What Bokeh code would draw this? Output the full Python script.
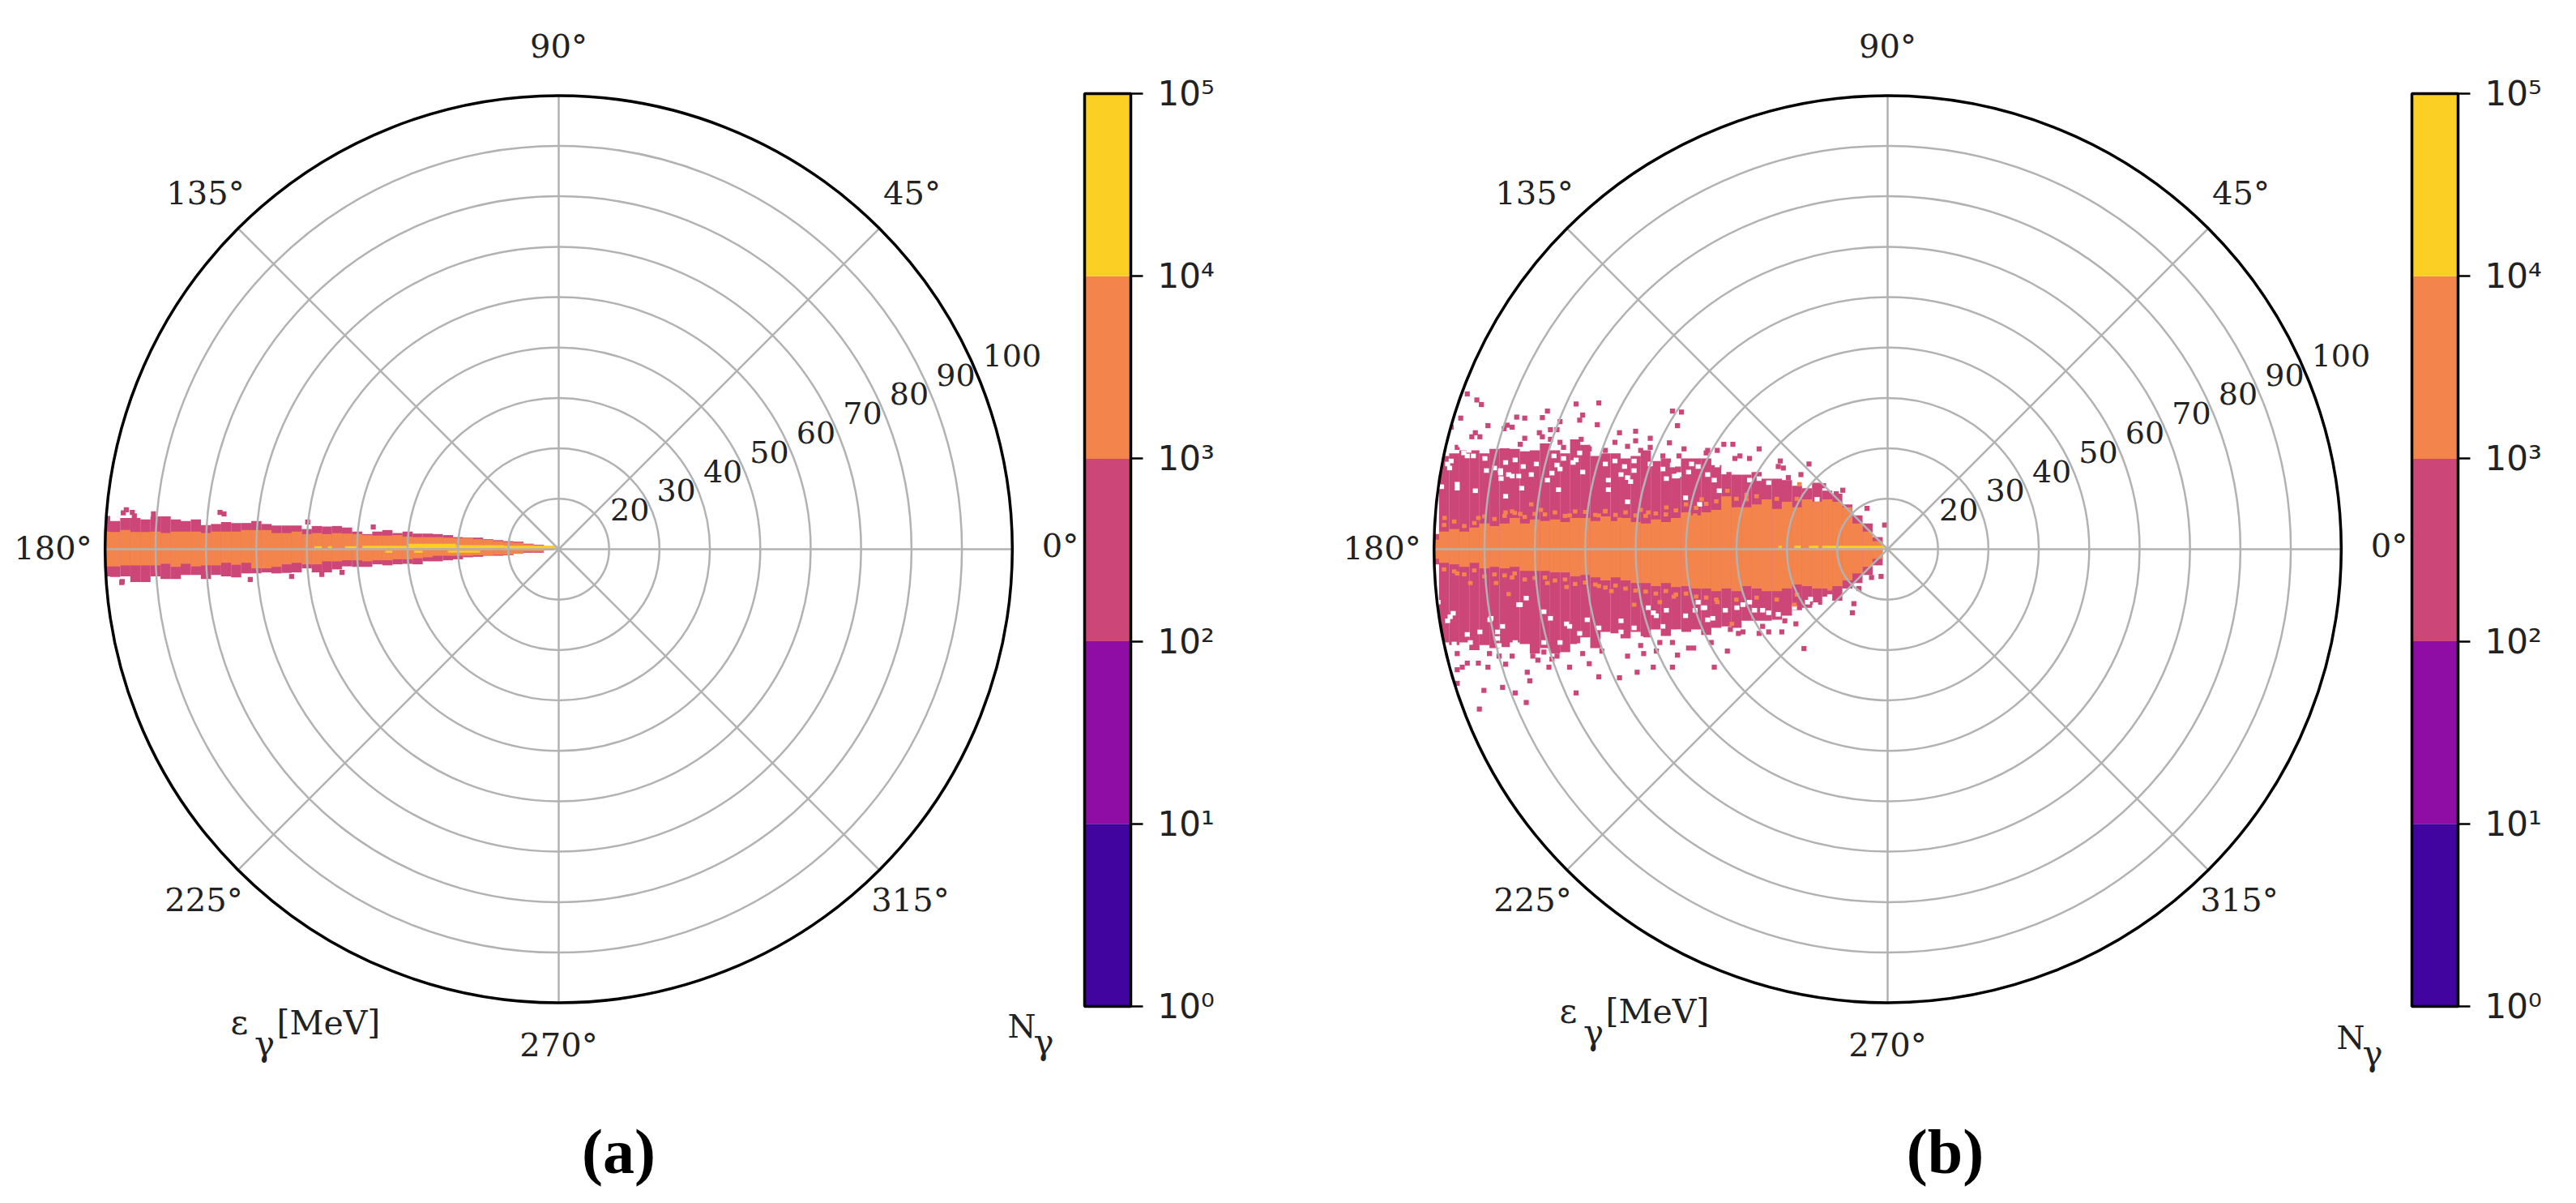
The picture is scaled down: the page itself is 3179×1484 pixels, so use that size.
from bokeh.plotting import figure
from bokeh.layouts import row
from bokeh.models import Range1d, FixedTicker
from bokeh.core.properties import value
from bokeh.embed import file_html
from bokeh.resources import INLINE
import math

# ---------- data: histogram (MeV from the plot centre) ----------
stations = [90,88,86,84,82,80,78,76,74,72,70,68,66,64,62,60,58,56,54,52,50,48,46,44,42,40,38,36,34,32,30,28,26,24,22,20,18,16,14,12,10,8,6,4,2]

a_mag_top = [6.6,5.6,6.2,6.2,5.9,6.5,6.5,5.9,5.6,5.9,4.8,5.0,5.4,5.2,5.2,5.6,5.0,4.7,4.7,4.7,4.0,4.6,4.5,4.6,4.3,3.5,3.0,3.5,3.8,3.2,3.5,3.1,3.1,3.0,2.8,2.4,2.3,2.3,2.0,1.8,1.6,1.5,1.1,0.9,0.6]
a_or_top  = [3.5,3.4,3.8,3.4,3.4,3.5,3.2,3.5,3.5,3.5,3.2,3.5,3.5,3.5,3.8,3.8,3.8,3.2,3.2,3.5,3.0,3.2,3.0,3.2,3.1,3.0,2.8,2.7,2.7,2.8,2.5,2.4,2.4,2.4,2.3,2.2,2.2,2.0,1.9,1.6,1.4,1.3,1.0,0.8,0.0]
a_or_bot  = [3.4,3.4,3.2,3.2,3.2,3.2,2.9,3.5,2.9,3.4,3.2,3.2,2.7,3.1,2.7,3.8,3.8,3.5,3.0,2.7,3.0,3.0,2.4,2.4,2.2,2.2,2.4,2.2,2.2,2.0,2.0,1.8,1.6,1.3,1.3,1.3,1.3,1.2,1.2,1.1,1.1,0.9,0.5,0.5,0.0]
a_mag_bot = [5.4,5.5,5.4,6.5,6.5,5.4,5.9,5.9,5.1,5.1,5.9,5.1,5.4,5.6,4.8,4.8,4.6,4.8,4.7,4.6,3.8,4.6,4.6,4.0,3.4,3.5,3.5,3.0,3.2,3.0,2.9,3.0,2.4,2.4,2.2,2.0,1.6,1.5,1.3,1.3,1.2,0.9,0.7,0.7,0.2]
a_spk_x = [86.4,85.8,80.4,84.6,84.2,67.2,66.4,49.8,36.8,86.7,61.2,86.6,53.0,47.0,43.0]
a_spk_y = [7.2,7.8,7.0,7.3,6.6,7.3,7.0,5.4,4.4,-6.6,-6.0,-6.4,-5.4,-5.0,-4.6]
a_yel_start = [0.6,10.8,20.4,30.0,40.0,45.0,47.0,33.0,27.0,15.6]
a_yel_end   = [10.8,20.4,30.0,39.0,42.4,45.8,48.5,34.4,28.7,22.0]
a_yel_low   = [0.1,0.2,0.2,0.2,0.2,0.2,0.2,-0.7,-0.7,-0.7]
a_yel_high  = [0.7,0.8,1.1,0.7,0.6,0.6,0.6,-0.3,-0.3,-0.3]

b_mag_top = [3.0,18.5,19.0,19.6,19.6,19.0,19.9,20.0,19.9,19.4,19.6,21.0,19.6,19.0,21.8,20.7,18.5,19.0,19.0,18.0,18.5,19.6,17.5,18.0,16.4,18.0,18.0,18.0,16.7,15.3,14.8,14.8,15.3,14.0,14.0,13.7,12.6,12.1,13.2,11.6,11.0,8.9,6.7,5.1,2.4]
b_or_top  = [1.9,3.5,4.0,3.5,4.3,5.1,4.6,5.1,6.2,5.1,5.9,5.6,5.9,5.4,6.2,6.2,5.6,6.5,5.6,6.2,5.4,5.1,5.9,5.4,6.2,7.3,6.7,7.3,7.8,10.5,8.3,8.3,8.9,9.9,8.0,9.4,8.3,9.9,9.4,9.9,9.4,8.3,5.1,3.5,1.6]
b_or_bot  = [1.9,2.7,3.0,3.5,2.7,3.8,3.5,3.8,3.5,4.3,4.3,4.3,4.6,4.6,5.4,5.1,5.6,6.2,5.6,6.2,6.7,6.7,7.3,6.7,7.5,7.3,7.8,7.8,8.3,7.8,8.3,7.3,7.8,8.3,8.3,7.8,7.0,7.3,7.8,7.8,7.3,6.2,4.8,3.5,1.9]
b_mag_bot = [3.0,18.5,19.0,18.5,20.0,19.0,19.6,19.4,18.5,18.8,20.7,19.6,20.7,20.4,18.8,17.5,19.6,16.4,16.7,17.7,16.4,17.5,15.9,17.2,15.9,16.4,15.9,17.0,15.6,15.3,15.6,14.2,14.2,14.2,14.0,13.2,12.1,11.6,11.0,9.4,10.2,7.8,6.7,5.1,3.2]
b_spk_x = [83.4,81.5,80.6,84.7,86.6,81.8,82.5,80.9,79.3,75.5,76.1,74.5,73.6,72.0,67.5,68.5,65.0,61.8,57.3,60.5,61.1,57.6,69.1,68.5,66.9,65.6,72.0,72.9,60.8,62.4,53.2,50.0,50.0,47.1,43.3,40.4,41.7,40.9,42.7,32.5,30.7,35.7,33.8,29.3,27.4,25.5,21.3,20.7,15.6,8.9,4.1,0.6,85.4,
           84.4,85.4,83.4,85.4,81.2,79.3,80.1,81.0,76.4,73.9,71.7,71.0,71.5,67.2,63.1,59.2,61.8,57.3,53.2,49.7,46.5,42.7,34.4,41.7,38.5,31.8,16.6,7.0,6.7,1.3,23.6,21.0,25.5,29.6,51.6,56.7,65.6,66.6,70.4,69.4,85.4,79.0,75.8,48.4,45.9,
           66.9,65.0,64.3,59.2,56.0,54.1,51.6,49.0,47.1,44.6,41.4,36.0,30.3,21.7,19.7,17.2,12.7,10.2,
           49.0,45.2,42.7,39.5,35.0,31.2,28.7,24.8,18.2,20.4,10.2,5.7,3.2,60.5,68.2,74.5,77.1]
b_spk_y = [30.8,29.6,28.7,26.0,24.2,23.1,22.3,22.3,24.5,24.6,23.9,24.2,26.2,26.0,27.4,26.1,25.3,28.8,29.0,26.6,25.6,24.7,23.1,22.3,23.7,23.7,22.0,20.8,21.8,21.2,23.1,23.4,21.5,22.0,21.1,19.9,24.5,27.2,27.4,20.8,20.8,19.6,19.6,18.5,18.0,19.9,17.5,16.1,16.9,11.7,8.1,4.8,20.2,
           -23.4,-23.9,-22.6,-26.6,-22.6,-23.4,-28.0,-31.7,-27.4,-28.5,-30.4,-26.1,-24.4,-23.4,-23.4,-22.7,-28.5,-25.3,-25.5,-24.4,-23.4,-23.4,-23.4,-21.0,-19.6,-20.2,-19.7,-12.6,-10.8,-5.4,-16.4,-16.4,-16.7,-16.7,-21.2,-20.2,-21.2,-21.8,-21.2,-22.0,-20.7,-20.7,-22.8,-20.7,-20.2,
           21.8,21.2,20.2,19.9,19.6,21.2,20.4,19.6,20.2,18.5,18.5,19.1,18.0,16.4,14.2,14.8,12.6,11.0,
           -19.1,-18.5,-18.5,-19.6,-18.5,-15.9,-16.4,-15.3,-14.8,-14.2,-9.4,-7.8,-5.6,-20.7,-20.4,-21.2,-21.2]
b_hole_x = [87.3,86.9,85.4,78.0,76.8,75.2,73.2,67.5,65.6,65.3,55.4,41.4,42.3,50.3,51.6,55.4,76.7,79.6,64.3,61.8,83.4,47.1,37.6,32.5,
            86.8,86.2,87.3,66.9,59.6,77.4,73.2,63.1,52.9,46.5,43.9,36.3,29.9,35.7,24.8,15.9,14.3,47.5,27.4,37.6,78.7,77.4,
            84.7,84.1,83.1,82.2,80.9,86.6,79.9,75.8,73.9,76.8,74.5,72.3,69.7,70.7,66.2,65.0,62.4,60.5,66.6,61.1,56.0,54.1,52.2,50.3,52.9,51.0,44.6,41.7,39.5,38.9,42.7,43.9,35.7,33.8,31.2,28.7,27.4,25.5,23.6,34.4,88.5,85.4,81.8,72.6,75.8,51.6,40.1,37.3,33.4,15.9,14.0,
            89.2,78.9,76.4,72.9,71.7,68.2,63.7,61.1,57.3,55.4,52.9,50.3,49.0,45.9,44.6,41.4,40.1,38.2,36.6,34.7,32.2,28.7,26.4,23.6,21.7,18.5,15.3,11.5,80.9,83.4,77.1,73.9,68.2,65.0,61.1,82.8,86.0]
b_hole_y = [16.9,16.1,12.9,16.1,15.6,14.8,14.5,13.7,16.7,11.8,11.8,14.8,14.5,15.6,14.2,13.7,14.0,15.6,18.0,17.7,18.5,16.9,16.4,15.3,
            -13.4,-12.7,-14.2,-13.7,-14.0,-17.7,-11.0,-15.3,-14.2,-12.6,-12.1,-11.6,-11.6,-14.0,-12.1,-10.5,-11.0,-11.6,-10.5,-10.5,-13.7,-16.4,
            20.7,19.1,19.6,18.5,20.7,17.5,18.0,17.2,17.7,15.1,14.5,16.4,16.9,14.8,18.5,15.9,17.2,15.3,15.1,19.1,16.9,17.5,16.4,17.5,14.8,13.4,15.9,14.5,15.3,16.9,16.7,14.0,14.8,16.7,16.4,15.3,13.7,14.0,13.2,13.7,12.4,12.1,11.6,12.1,10.5,9.4,10.2,8.9,11.6,9.4,9.9,
            -10.5,-14.0,-15.3,-11.0,-9.7,-12.4,-14.8,-16.7,-15.6,-18.0,-16.4,-15.6,-17.7,-13.2,-15.3,-16.4,-13.2,-12.1,-11.6,-13.7,-12.1,-11.0,-12.1,-12.6,-12.9,-11.6,-9.9,-9.4,-16.4,-16.9,-19.1,-18.5,-18.5,-18.5,-19.1,-18.5,-18.8]
b_ospk_x = [75.8,74.5,72.9,68.8,70.7,63.1,56.0,57.3,53.2,49.0,47.5,43.9,36.9,38.2,31.8,28.0,24.8,17.5,87.9,81.2,
            85.4,77.7,74.5,67.5,63.7,57.3,54.8,50.3,45.2,42.4,33.8,30.9,18.5,11.5,75.2,82.8,
            88,86,84,82,80,78,76,74,72,70,68,66,64,62,60,58,56,54,52,50,48,46,44,42,40,38,36,34,30,28,26,22,18,
            88,86,84,82,80,78,76,74,72,70,68,66,64,62,60,58,56,54,52,50,48,46,44,42,40,38,36,34,30,26,22,18]
b_ospk_y = [7.3,7.5,7.0,7.8,8.9,6.7,7.5,6.7,5.9,7.8,7.3,8.3,9.9,6.7,11.6,9.9,8.3,12.9,6.2,6.2,
            -4.8,-6.7,-5.6,-6.7,-7.5,-7.3,-8.3,-11.0,-10.5,-9.4,-10.5,-14.8,-11.0,-7.8,-8.9,-6.7,
            4.8,5.5,4.6,5.2,6.5,6.0,6.6,7.2,6.4,7.0,6.9,7.3,6.6,7.5,7.4,6.8,7.6,6.8,7.3,6.7,6.6,7.1,6.9,7.7,8.9,8.2,9.0,9.5,10.0,10.8,10.5,10.0,10.0,
            -4.0,-4.4,-5.0,-4.2,-5.4,-5.0,-5.2,-4.8,-6.0,-5.7,-5.6,-6.2,-6.0,-6.9,-6.6,-7.0,-7.6,-7.2,-7.8,-8.2,-8.4,-8.8,-8.3,-9.0,-8.8,-9.4,-9.6,-10.0,-10.0,-9.6,-10.0,-9.0]
b_yel_start = [0.6,10.2,13.7,17.2,21.0]
b_yel_end   = [10.2,13.0,15.6,18.5,21.7]

radial_ticks = [20,30,40,50,60,70,80,90,100]
angle_ticks = [0,45,90,135,180,225,270,315]
angle_labels = ["0°","45°","90°","135°","180°","225°","270°","315°"]

cbar_low = [1,10,100,1000,10000]
cbar_high = [10,100,1000,10000,100000]
cbar_colors = ["#42049e","#8f0da4","#cc4678","#f3844b","#fccf25"]
cbar_labels = {1:"10⁰",10:"10¹",100:"10²",1000:"10³",10000:"10⁴",100000:"10⁵"}

# ---------- layout constants ----------
K = 6.22          # page pixels per MeV
CY = 677
H = 1476
SERIF = value("DejaVu Serif")
GRID = "#b2b2b2"
MAG, ORG, YEL = "#cc4678", "#f3844b", "#fccf25"
DECADE = 225.2    # colour bar pixels per decade
CB_TOP, CB_BOT = 115, 1241


def polar_panel(page_left, page_right, cx, env, spk, holes, ospk, yel, cap, eps_dy, n_dy):
    p = figure(width=page_right - page_left, height=H,
               x_range=Range1d((page_left - cx) / K, (page_right - cx) / K),
               y_range=Range1d((CY - H) / K, CY / K),
               x_axis_location=None, y_axis_location=None,
               toolbar_location=None, output_backend="svg", min_border=0,
               outline_line_color=None)
    p.grid.visible = False
    mt, ot, ob, mb = env
    def band(top, bot, color):
        p.quad(left=[-(u + 1) for u in stations], right=[-(u - 1.02) for u in stations],
               top=top, bottom=[-b for b in bot], fill_color=color, line_color=None)
    band(mt, mb, MAG)
    p.rect(x=[-v for v in spk[0]], y=spk[1], width=1.0, height=1.0, fill_color=MAG, line_color=None)
    if holes:
        p.rect(x=[-v for v in holes[0]], y=holes[1], width=1.0, height=0.9, fill_color="white", line_color=None)
    band(ot, ob, ORG)
    if ospk:
        p.rect(x=[-v for v in ospk[0]], y=ospk[1], width=0.9, height=0.8, fill_color=ORG, line_color=None)
    p.quad(left=[-v for v in yel[1]], right=[-v for v in yel[0]], bottom=yel[2], top=yel[3],
           fill_color=YEL, line_color=None)
    # mask anything past the outer radius
    p.annulus(x=[0], y=[0], inner_radius=[90], outer_radius=[96], fill_color="white", line_color=None)
    # grid
    p.circle(x=[0] * 8, y=[0] * 8, radius=[r - 10 for r in radial_ticks[:-1]],
             fill_color=None, line_color=GRID, line_width=2.5)
    p.segment(x0=[0] * 8, y0=[0] * 8,
              x1=[90 * math.cos(math.radians(t)) for t in angle_ticks],
              y1=[90 * math.sin(math.radians(t)) for t in angle_ticks],
              line_color=GRID, line_width=2.5)
    p.circle(x=[0], y=[0], radius=[90], fill_color=None, line_color="black", line_width=3.5)
    # angle labels
    off_x = [619, 436, 0, -436, -624, -438, 0, 434]
    off_y = [5, 440, 621, 440, 2, -432, -611, -432]
    p.text(x=[v / K for v in off_x], y=[v / K for v in off_y], text=angle_labels,
           text_font=SERIF, text_font_size="40px", text_color="#222222",
           text_align="center", text_baseline="middle")
    # radial labels
    t = math.radians(22.5)
    p.text(x=[(r - 10) * math.cos(t) for r in radial_ticks],
           y=[(r - 10) * math.sin(t) for r in radial_ticks],
           text=[str(r) for r in radial_ticks], x_offset=6, y_offset=-25,
           text_font=SERIF, text_font_size="38px", text_color="#222222",
           text_align="left", text_baseline="middle")
    # axis names
    yy = -584 + eps_dy
    p.text(x=[-394 / K], y=[yy / K], text=["ε"], text_font=SERIF, text_font_size="42px",
           text_align="center", text_baseline="middle", text_color="#222222")
    p.text(x=[-363 / K], y=[(yy - 26) / K], text=["γ"], text_font=SERIF, text_font_size="42px",
           text_align="center", text_baseline="middle", text_color="#222222")
    p.text(x=[-348 / K], y=[yy / K], text=["[MeV]"], text_font=SERIF, text_font_size="41px",
           text_align="left", text_baseline="middle", text_color="#222222")
    ny = -588 + n_dy
    p.text(x=[554 / K], y=[ny / K], text=["N"], text_font=SERIF, text_font_size="40px",
           text_align="left", text_baseline="middle", text_color="#222222")
    p.text(x=[586 / K], y=[(ny - 20) / K], text=["γ"], text_font=SERIF, text_font_size="42px",
           text_align="left", text_baseline="middle", text_color="#222222")
    p.text(x=[cap[1] / K], y=[(CY - 1420) / K], text=[cap[0]], text_font=value("Liberation Serif"),
           text_font_size="78px", text_font_style="bold", text_align="center", text_baseline="middle",
           text_color="black")
    return p


def colorbar(width):
    lo = 10 ** (-(H - CB_BOT) / DECADE)
    hi = 10 ** (5 + CB_TOP / DECADE)
    pad = 3 / 57
    c = figure(width=width, height=H,
               x_range=Range1d(-pad, 1 + pad), y_range=Range1d(lo, hi), y_axis_type="log",
               x_axis_location=None, y_axis_location="right",
               toolbar_location=None, output_backend="svg",
               min_border=0, min_border_right=width - 63, outline_line_color=None)
    c.grid.visible = False
    c.quad(left=[0] * 5, right=[1] * 5, bottom=cbar_low, top=cbar_high, fill_color=cbar_colors, line_color=None)
    c.quad(left=[0], right=[1], bottom=[1], top=[100000], fill_color=None, line_color="black", line_width=3.5)
    ax = c.yaxis[0]
    ax.ticker = FixedTicker(ticks=list(cbar_labels.keys()))
    ax.major_label_overrides = cbar_labels
    ax.major_tick_out = 12
    ax.major_tick_in = 3
    ax.minor_tick_line_color = None
    ax.major_tick_line_color = "black"
    ax.major_tick_line_width = 2.5
    ax.axis_line_color = None
    ax.major_label_standoff = 18
    ax.major_label_text_font = "DejaVu Sans"
    ax.major_label_text_font_size = "42px"
    ax.major_label_text_color = "#222222"
    return c


pa = polar_panel(0, 1335, 689, (a_mag_top, a_or_top, a_or_bot, a_mag_bot), (a_spk_x, a_spk_y), None, None,
                 (a_yel_start, a_yel_end, a_yel_low, a_yel_high), ("(a)", 74), 0, 0)
ca = colorbar(305)
b_low = [0.2] * len(b_yel_start)
b_high = [0.7] * len(b_yel_start)
pb = polar_panel(1640, 2973, 2329, (b_mag_top, b_or_top, b_or_bot, b_mag_bot), (b_spk_x, b_spk_y),
                 (b_hole_x, b_hole_y), (b_ospk_x, b_ospk_y), (b_yel_start, b_yel_end, b_low, b_high),
                 ("(b)", 71), 14, -14)
cb = colorbar(198)

layout = row(pa, ca, pb, cb, spacing=0)
open("out.html", "w").write(file_html(layout, INLINE))
